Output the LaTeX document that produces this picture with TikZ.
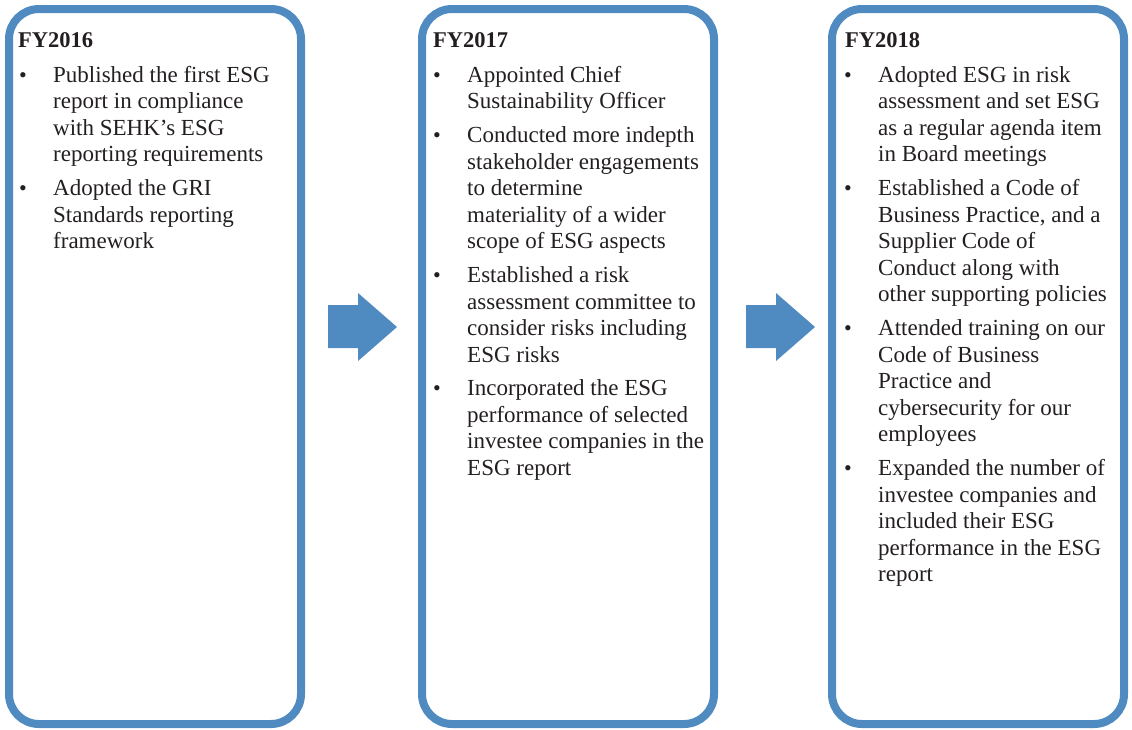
\documentclass[tikz,border=0pt]{standalone}
\usepackage{fontspec}
\setmainfont{Liberation Serif}
\definecolor{esgblue}{RGB}{79,139,193}
\definecolor{ink}{RGB}{35,31,32}
\newcommand\esgitem[1]{\parbox[t]{260pt}{\raggedright\fontsize{23}{26.5}\selectfont #1}}
\begin{document}
\begin{tikzpicture}[x=1pt,y=-1pt,
  yearbox/.style={draw=esgblue,line width=8pt,rounded corners=30pt,minimum width=292pt,minimum height=715pt,inner sep=0pt,outer sep=0pt,anchor=north west},
  yeartitle/.style={anchor=base west,inner sep=0pt,text=ink,font=\fontsize{22.5}{25}\selectfont\bfseries},
  bul/.style={anchor=base west,inner sep=0pt,text=ink,font=\fontsize{22}{25}\selectfont},
  itm/.style={anchor=base west,inner sep=0pt,text=ink},
  blockarrow/.style={fill=esgblue}]
\useasboundingbox (0,0) rectangle (1132,729);
% boxes
\node[yearbox] (b1) at (9,9) {};
\node[yearbox] (b2) at (422,9) {};
\node[yearbox] (b3) at (832,9) {};
% arrows
\fill[blockarrow] (328,305) -- (358,305) -- (358,293) -- (397,327) -- (358,361) -- (358,348) -- (328,348) -- cycle;
\fill[blockarrow] (746,305) -- (776,305) -- (776,293) -- (815,327) -- (776,361) -- (776,348) -- (746,348) -- cycle;
% FY2016
\node[yeartitle] (t1) at (18,47) {FY2016};
\node[bul] (p1a) at (19,82) {\textbullet};
\node[itm] (i1a) at (53,82) {\esgitem{Published the first ESG\\report in compliance\\with SEHK’s ESG\\reporting requirements}};
\node[bul] (p1b) at (19,195.5) {\textbullet};
\node[itm] (i1b) at (53,195.5) {\esgitem{Adopted the GRI\\Standards reporting\\framework}};
% FY2017
\node[yeartitle] (t2) at (433,47) {FY2017};
\node[bul] (p2a) at (433,82) {\textbullet};
\node[itm] (i2a) at (467,82) {\esgitem{Appointed Chief\\Sustainability Officer}};
\node[bul] (p2b) at (433,142.5) {\textbullet};
\node[itm] (i2b) at (467,142.5) {\esgitem{Conducted more indepth\\stakeholder engagements\\to determine\\materiality of a wider\\scope of ESG aspects}};
\node[bul] (p2c) at (433,282.5) {\textbullet};
\node[itm] (i2c) at (467,282.5) {\esgitem{Established a risk\\assessment committee to\\consider risks including\\ESG risks}};
\node[bul] (p2d) at (433,395.5) {\textbullet};
\node[itm] (i2d) at (467,395.5) {\esgitem{Incorporated the ESG\\performance of selected\\investee companies in the\\ESG report}};
% FY2018
\node[yeartitle] (t3) at (845,47) {FY2018};
\node[bul] (p3a) at (844,82) {\textbullet};
\node[itm] (i3a) at (878,82) {\esgitem{Adopted ESG in risk\\assessment and set ESG\\as a regular agenda item\\in Board meetings}};
\node[bul] (p3b) at (844,195.5) {\textbullet};
\node[itm] (i3b) at (878,195.5) {\esgitem{Established a Code of\\Business Practice, and a\\Supplier Code of\\Conduct along with\\other supporting policies}};
\node[bul] (p3c) at (844,335.5) {\textbullet};
\node[itm] (i3c) at (878,335.5) {\esgitem{Attended training on our\\Code of Business\\Practice and\\cybersecurity for our\\employees}};
\node[bul] (p3d) at (844,475.5) {\textbullet};
\node[itm] (i3d) at (878,475.5) {\esgitem{Expanded the number of\\investee companies and\\included their ESG\\performance in the ESG\\report}};
\end{tikzpicture}
\end{document}
